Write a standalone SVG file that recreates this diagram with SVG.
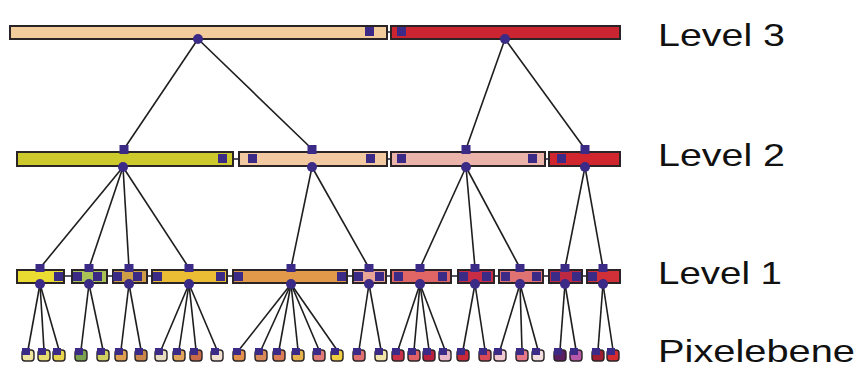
<svg xmlns="http://www.w3.org/2000/svg" width="859" height="371" viewBox="0 0 859 371">
<style>
.bar{stroke:#2a2426;stroke-width:2}
.hub{fill:#3b2a86}
.lnk{stroke:#2a2a40;stroke-width:1.6;fill:none}
.con line{stroke:#1e1e1e;stroke-width:1.6}
.px{stroke:#2a2426;stroke-width:1.4}
.lbl{font-family:"Liberation Sans",Arial,sans-serif;font-size:32px;fill:#111}
</style>
<rect width="859" height="371" fill="#fff"/>
<g class="con" id="connectors">
<line x1="198" y1="39" x2="124" y2="149"/><line x1="198" y1="39" x2="312" y2="149"/>
<line x1="505" y1="39" x2="466" y2="149"/><line x1="505" y1="39" x2="585" y2="149"/>
<line x1="123" y1="167" x2="40" y2="268"/><line x1="123" y1="167" x2="89" y2="268"/><line x1="123" y1="167" x2="129" y2="268"/><line x1="123" y1="167" x2="189" y2="268"/>
<line x1="312" y1="167" x2="291" y2="268"/><line x1="312" y1="167" x2="369" y2="268"/>
<line x1="466" y1="167" x2="420" y2="268"/><line x1="466" y1="167" x2="475" y2="268"/><line x1="466" y1="167" x2="520" y2="268"/>
<line x1="585" y1="167" x2="565" y2="268"/><line x1="585" y1="167" x2="603" y2="268"/>
<line x1="40" y1="284" x2="28" y2="350"/><line x1="40" y1="284" x2="44" y2="350"/><line x1="40" y1="284" x2="59" y2="350"/>
<line x1="89" y1="284" x2="81" y2="350"/><line x1="89" y1="284" x2="103" y2="350"/>
<line x1="129" y1="284" x2="121" y2="350"/><line x1="129" y1="284" x2="141" y2="350"/>
<line x1="189" y1="284" x2="161" y2="350"/><line x1="189" y1="284" x2="179" y2="350"/><line x1="189" y1="284" x2="196" y2="350"/><line x1="189" y1="284" x2="217" y2="350"/>
<line x1="291" y1="284" x2="239" y2="350"/><line x1="291" y1="284" x2="261" y2="350"/><line x1="291" y1="284" x2="279" y2="350"/><line x1="291" y1="284" x2="298" y2="350"/><line x1="291" y1="284" x2="319" y2="350"/><line x1="291" y1="284" x2="337" y2="350"/>
<line x1="369" y1="284" x2="359" y2="350"/><line x1="369" y1="284" x2="381" y2="350"/>
<line x1="420" y1="284" x2="398" y2="350"/><line x1="420" y1="284" x2="414" y2="350"/><line x1="420" y1="284" x2="429" y2="350"/><line x1="420" y1="284" x2="445" y2="350"/>
<line x1="475" y1="284" x2="463" y2="350"/><line x1="475" y1="284" x2="485" y2="350"/>
<line x1="520" y1="284" x2="500" y2="350"/><line x1="520" y1="284" x2="522" y2="350"/><line x1="520" y1="284" x2="538" y2="350"/>
<line x1="565" y1="284" x2="560" y2="350"/><line x1="565" y1="284" x2="576" y2="350"/>
<line x1="603" y1="284" x2="598" y2="350"/><line x1="603" y1="284" x2="613" y2="350"/>
</g>
<g id="links">
<line class="lnk" x1="374" y1="32" x2="397" y2="32"/>
<line class="lnk" x1="227" y1="159" x2="248" y2="159"/>
<line class="lnk" x1="374" y1="159" x2="398" y2="159"/>
<line class="lnk" x1="536" y1="159" x2="558" y2="159"/>
<line class="lnk" x1="62" y1="276" x2="73" y2="276"/>
<line class="lnk" x1="101" y1="276" x2="113" y2="276"/>
<line class="lnk" x1="141" y1="276" x2="153" y2="276"/>
<line class="lnk" x1="225" y1="276" x2="234" y2="276"/>
<line class="lnk" x1="346" y1="276" x2="354" y2="276"/>
<line class="lnk" x1="383" y1="276" x2="394" y2="276"/>
<line class="lnk" x1="447" y1="276" x2="459" y2="276"/>
<line class="lnk" x1="491" y1="276" x2="501" y2="276"/>
<line class="lnk" x1="541" y1="276" x2="551" y2="276"/>
<line class="lnk" x1="581" y1="276" x2="588" y2="276"/>
</g>
<g id="L3a"><rect class="bar" x="10" y="26" width="377" height="13" fill="#f2cc9a"/><rect class="hub" x="365" y="27" width="9" height="9"/><circle class="hub" cx="198" cy="39" r="5"/></g>
<g id="L3b"><rect class="bar" x="391" y="26" width="229" height="13" fill="#cc2532"/><rect class="hub" x="397" y="27" width="9" height="9"/><circle class="hub" cx="505" cy="39" r="5"/></g>
<g id="L2a"><rect class="bar" x="17" y="152" width="216" height="14" fill="#cdc92c"/><rect class="hub" x="218" y="154" width="9" height="9"/><rect class="hub" x="119.5" y="145" width="9" height="9"/><circle class="hub" cx="123" cy="167" r="5"/></g>
<g id="L2b"><rect class="bar" x="239" y="152" width="148" height="14" fill="#f2c9a0"/><rect class="hub" x="248" y="154" width="9" height="9"/><rect class="hub" x="366" y="154" width="9" height="9"/><rect class="hub" x="307.5" y="145" width="9" height="9"/><circle class="hub" cx="312" cy="167" r="5"/></g>
<g id="L2c"><rect class="bar" x="391" y="152" width="154" height="14" fill="#ebb4aa"/><rect class="hub" x="397" y="154" width="9" height="9"/><rect class="hub" x="528" y="154" width="9" height="9"/><rect class="hub" x="461.5" y="145" width="9" height="9"/><circle class="hub" cx="466" cy="167" r="5"/></g>
<g id="L2d"><rect class="bar" x="549" y="152" width="71" height="14" fill="#d2262f"/><rect class="hub" x="557" y="154" width="9" height="9"/><rect class="hub" x="580.5" y="145" width="9" height="9"/><circle class="hub" cx="585" cy="167" r="5"/></g>
<g id="L1a"><rect class="bar" x="17" y="270" width="47" height="13" fill="#eadc30"/><rect class="hub" x="54" y="272" width="9" height="9"/><rect class="hub" x="35.5" y="264" width="9" height="8"/><circle class="hub" cx="40" cy="284" r="5"/></g>
<g id="L1b"><rect class="bar" x="72" y="270" width="35" height="13" fill="#a9c455"/><rect class="hub" x="73" y="272" width="9" height="9"/><rect class="hub" x="93" y="272" width="9" height="9"/><rect class="hub" x="84.5" y="264" width="9" height="8"/><circle class="hub" cx="89" cy="284" r="5"/></g>
<g id="L1c"><rect class="bar" x="113" y="270" width="34" height="13" fill="#cf9f48"/><rect class="hub" x="113" y="272" width="9" height="9"/><rect class="hub" x="133" y="272" width="9" height="9"/><rect class="hub" x="124.5" y="264" width="9" height="8"/><circle class="hub" cx="129" cy="284" r="5"/></g>
<g id="L1d"><rect class="bar" x="152" y="270" width="75" height="13" fill="#ebbd35"/><rect class="hub" x="153" y="272" width="9" height="9"/><rect class="hub" x="216" y="272" width="9" height="9"/><rect class="hub" x="184.5" y="264" width="9" height="8"/><circle class="hub" cx="189" cy="284" r="5"/></g>
<g id="L1e"><rect class="bar" x="233" y="270" width="114" height="13" fill="#e29a4a"/><rect class="hub" x="234" y="272" width="9" height="9"/><rect class="hub" x="337" y="272" width="9" height="9"/><rect class="hub" x="286.5" y="264" width="9" height="8"/><circle class="hub" cx="291" cy="284" r="5"/></g>
<g id="L1f"><rect class="bar" x="353" y="270" width="33" height="13" fill="#e8a596"/><rect class="hub" x="354" y="272" width="9" height="9"/><rect class="hub" x="375" y="272" width="9" height="9"/><rect class="hub" x="364.5" y="264" width="9" height="8"/><circle class="hub" cx="369" cy="284" r="5"/></g>
<g id="L1g"><rect class="bar" x="391" y="270" width="60" height="13" fill="#e06565"/><rect class="hub" x="394" y="272" width="9" height="9"/><rect class="hub" x="438" y="272" width="9" height="9"/><rect class="hub" x="415.5" y="264" width="9" height="8"/><circle class="hub" cx="420" cy="284" r="5"/></g>
<g id="L1h"><rect class="bar" x="458" y="270" width="36" height="13" fill="#c92c45"/><rect class="hub" x="459" y="272" width="9" height="9"/><rect class="hub" x="482" y="272" width="9" height="9"/><rect class="hub" x="470.5" y="264" width="9" height="8"/><circle class="hub" cx="475" cy="284" r="5"/></g>
<g id="L1i"><rect class="bar" x="499" y="270" width="44" height="13" fill="#e07272"/><rect class="hub" x="501" y="272" width="9" height="9"/><rect class="hub" x="532" y="272" width="9" height="9"/><rect class="hub" x="515.5" y="264" width="9" height="8"/><circle class="hub" cx="520" cy="284" r="5"/></g>
<g id="L1j"><rect class="bar" x="549" y="270" width="33" height="13" fill="#bd2842"/><rect class="hub" x="551" y="272" width="9" height="9"/><rect class="hub" x="572" y="272" width="9" height="9"/><rect class="hub" x="560.5" y="264" width="9" height="8"/><circle class="hub" cx="565" cy="284" r="5"/></g>
<g id="L1k"><rect class="bar" x="587" y="270" width="33" height="13" fill="#d23038"/><rect class="hub" x="588" y="272" width="9" height="9"/><rect class="hub" x="598.5" y="264" width="9" height="8"/><circle class="hub" cx="603" cy="284" r="5"/></g>
<g id="pixels">
<g id="p1"><rect class="px" x="22" y="350" width="12" height="11" rx="3" fill="#efe4a0"/><rect class="hub" x="22" y="348" width="8" height="7"/></g>
<g id="p2"><rect class="px" x="38" y="350" width="12" height="11" rx="3" fill="#e6dc70"/><rect class="hub" x="38" y="348" width="8" height="7"/></g>
<g id="p3"><rect class="px" x="53" y="350" width="12" height="11" rx="3" fill="#e8d44c"/><rect class="hub" x="53" y="348" width="8" height="7"/></g>
<g id="p4"><rect class="px" x="75" y="350" width="12" height="11" rx="3" fill="#7aa050"/><rect class="hub" x="75" y="348" width="8" height="7"/></g>
<g id="p5"><rect class="px" x="97" y="350" width="12" height="11" rx="3" fill="#cfd060"/><rect class="hub" x="97" y="348" width="8" height="7"/></g>
<g id="p6"><rect class="px" x="115" y="350" width="12" height="11" rx="3" fill="#dca050"/><rect class="hub" x="115" y="348" width="8" height="7"/></g>
<g id="p7"><rect class="px" x="135" y="350" width="12" height="11" rx="3" fill="#c8864a"/><rect class="hub" x="135" y="348" width="8" height="7"/></g>
<g id="p8"><rect class="px" x="155" y="350" width="12" height="11" rx="3" fill="#e8dcc0"/><rect class="hub" x="155" y="348" width="8" height="7"/></g>
<g id="p9"><rect class="px" x="173" y="350" width="12" height="11" rx="3" fill="#e0a55a"/><rect class="hub" x="173" y="348" width="8" height="7"/></g>
<g id="p10"><rect class="px" x="190" y="350" width="12" height="11" rx="3" fill="#c86a4a"/><rect class="hub" x="190" y="348" width="8" height="7"/></g>
<g id="p11"><rect class="px" x="211" y="350" width="12" height="11" rx="3" fill="#efe0d0"/><rect class="hub" x="211" y="348" width="8" height="7"/></g>
<g id="p12"><rect class="px" x="233" y="350" width="12" height="11" rx="3" fill="#e2904c"/><rect class="hub" x="233" y="348" width="8" height="7"/></g>
<g id="p13"><rect class="px" x="255" y="350" width="12" height="11" rx="3" fill="#d88a58"/><rect class="hub" x="255" y="348" width="8" height="7"/></g>
<g id="p14"><rect class="px" x="273" y="350" width="12" height="11" rx="3" fill="#da7c56"/><rect class="hub" x="273" y="348" width="8" height="7"/></g>
<g id="p15"><rect class="px" x="292" y="350" width="12" height="11" rx="3" fill="#e6b24c"/><rect class="hub" x="292" y="348" width="8" height="7"/></g>
<g id="p16"><rect class="px" x="313" y="350" width="12" height="11" rx="3" fill="#e07a78"/><rect class="hub" x="313" y="348" width="8" height="7"/></g>
<g id="p17"><rect class="px" x="331" y="350" width="12" height="11" rx="3" fill="#f0d040"/><rect class="hub" x="331" y="348" width="8" height="7"/></g>
<g id="p18"><rect class="px" x="353" y="350" width="12" height="11" rx="3" fill="#e07070"/><rect class="hub" x="353" y="348" width="8" height="7"/></g>
<g id="p19"><rect class="px" x="375" y="350" width="12" height="11" rx="3" fill="#f0e4a8"/><rect class="hub" x="375" y="348" width="8" height="7"/></g>
<g id="p20"><rect class="px" x="392" y="350" width="12" height="11" rx="3" fill="#c83048"/><rect class="hub" x="392" y="348" width="8" height="7"/></g>
<g id="p21"><rect class="px" x="408" y="350" width="12" height="11" rx="3" fill="#e06068"/><rect class="hub" x="408" y="348" width="8" height="7"/></g>
<g id="p22"><rect class="px" x="423" y="350" width="12" height="11" rx="3" fill="#b82040"/><rect class="hub" x="423" y="348" width="8" height="7"/></g>
<g id="p23"><rect class="px" x="439" y="350" width="12" height="11" rx="3" fill="#e8b8c8"/><rect class="hub" x="439" y="348" width="8" height="7"/></g>
<g id="p24"><rect class="px" x="457" y="350" width="12" height="11" rx="3" fill="#c82838"/><rect class="hub" x="457" y="348" width="8" height="7"/></g>
<g id="p25"><rect class="px" x="479" y="350" width="12" height="11" rx="3" fill="#d84858"/><rect class="hub" x="479" y="348" width="8" height="7"/></g>
<g id="p26"><rect class="px" x="494" y="350" width="12" height="11" rx="3" fill="#f0c8d0"/><rect class="hub" x="494" y="348" width="8" height="7"/></g>
<g id="p27"><rect class="px" x="516" y="350" width="12" height="11" rx="3" fill="#e47888"/><rect class="hub" x="516" y="348" width="8" height="7"/></g>
<g id="p28"><rect class="px" x="532" y="350" width="12" height="11" rx="3" fill="#f2dede"/><rect class="hub" x="532" y="348" width="8" height="7"/></g>
<g id="p29"><rect class="px" x="554" y="350" width="12" height="11" rx="3" fill="#5a2060"/><rect class="hub" x="554" y="348" width="8" height="7"/></g>
<g id="p30"><rect class="px" x="570" y="350" width="12" height="11" rx="3" fill="#b858a8"/><rect class="hub" x="570" y="348" width="8" height="7"/></g>
<g id="p31"><rect class="px" x="592" y="350" width="12" height="11" rx="3" fill="#a01c30"/><rect class="hub" x="592" y="348" width="8" height="7"/></g>
<g id="p32"><rect class="px" x="607" y="350" width="12" height="11" rx="3" fill="#d42a30"/><rect class="hub" x="607" y="348" width="8" height="7"/></g>
</g>
<g id="labels">
<text class="lbl" x="658" y="46" textLength="127" lengthAdjust="spacingAndGlyphs">Level 3</text>
<text class="lbl" x="658" y="166" textLength="127" lengthAdjust="spacingAndGlyphs">Level 2</text>
<text class="lbl" x="658" y="284" textLength="124" lengthAdjust="spacingAndGlyphs">Level 1</text>
<text class="lbl" x="658" y="362" textLength="197" lengthAdjust="spacingAndGlyphs">Pixelebene</text>
</g>
</svg>
